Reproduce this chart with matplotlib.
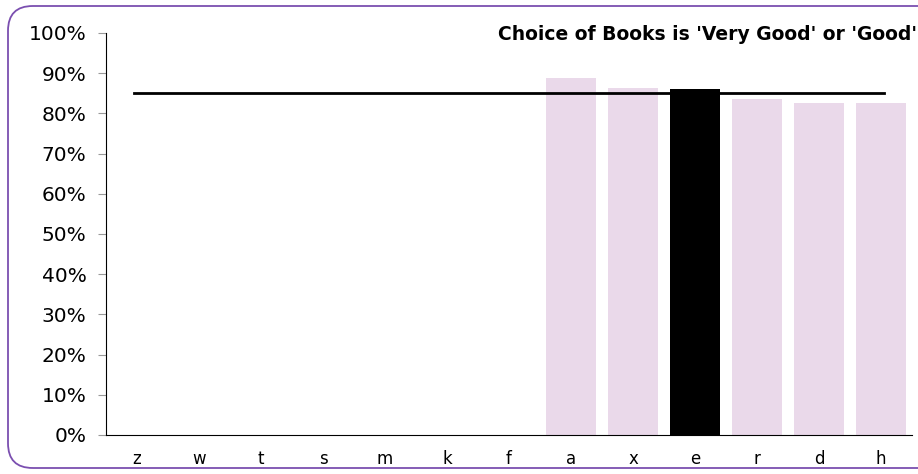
import matplotlib
matplotlib.use('Agg')
from matplotlib import pyplot as plt
from matplotlib.patches import FancyBboxPatch
from matplotlib.ticker import FuncFormatter

# categories along the x axis, only the last six have values
categories = ['z', 'w', 't', 's', 'm', 'k', 'f', 'a', 'x', 'e', 'r', 'd', 'h']
values = [0, 0, 0, 0, 0, 0, 0, 88.7, 86.3, 86.0, 83.6, 82.6, 82.5]
highlight = 'e'
average = 85.1
title = "Choice of Books is 'Very Good' or 'Good'"

plt.rcParams['font.family'] = 'DejaVu Sans'

fig = plt.figure(figsize=(9.18, 4.74), dpi=100)
ax = fig.add_axes([106/918, 1 - 435/474, (912 - 106)/918, (435 - 33)/474])

colors = ['black' if c == highlight else '#ead9ea' for c in categories]
xpos = range(len(categories))
ax.bar(xpos, values, width=0.81, color=colors)
ax.plot([-0.05, len(categories) - 0.95], [average, average], color='black', lw=2)

ax.set_xlim(-0.5, len(categories) - 0.5)
ax.set_ylim(0, 100)
ax.set_yticks(range(0, 101, 10))
ax.yaxis.set_major_formatter(FuncFormatter(lambda v, p: '%d%%' % v))
ax.set_xticks(list(xpos))
ax.set_xticklabels(categories)
ax.tick_params(axis='y', labelsize=14.5, length=6, color='#999999', pad=8)
ax.tick_params(axis='x', labelsize=12, length=0, pad=11)
for side in ['top', 'right']:
    ax.spines[side].set_visible(False)

fig.text(917/918, 1 - 34/474, title, ha='right', va='center',
         fontsize=13.5, fontweight='bold', family='DejaVu Sans')

# rounded purple frame round the whole picture
frame = FancyBboxPatch((8/918, 6/474), 940/918, 462/474,
                       boxstyle='round,pad=0,rounding_size=0.027',
                       transform=fig.transFigure, fill=False,
                       edgecolor='#7b4fb0', lw=1.3, mutation_aspect=918/474)
fig.patches.append(frame)

fig.savefig('out.png', dpi=100)
